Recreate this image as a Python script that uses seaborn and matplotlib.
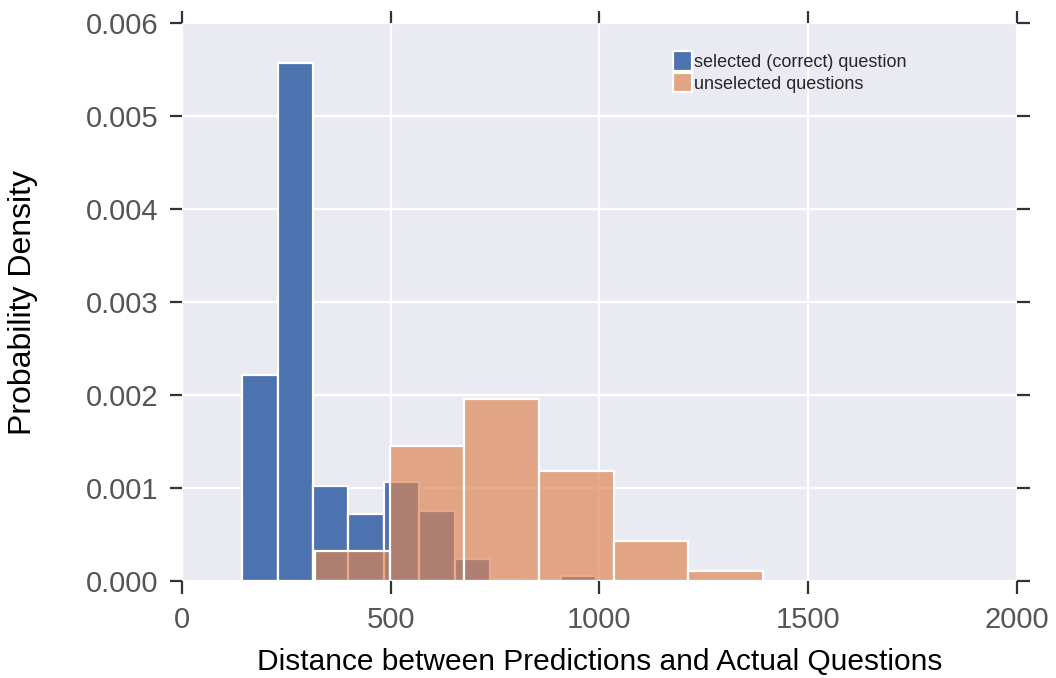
import numpy as np
import pandas as pd
import matplotlib
matplotlib.use("Agg")
import matplotlib.pyplot as plt
import seaborn as sns

# Selected (correct) question: histogram bin edges and densities
sel_edges = [144, 229, 314, 398, 483, 568, 653, 738, 822, 907, 992]
sel_density = [0.00222, 0.00557, 0.00102, 0.00072, 0.00107, 0.00075, 0.00024, 0.00002, 0.0, 0.00005]

# Unselected questions: histogram bin edges and densities
unsel_edges = [319, 498, 676, 855, 1034, 1213, 1392]
unsel_density = [0.00032, 0.00145, 0.00196, 0.00118, 0.00043, 0.00011]

labels = ["selected (correct) question", "unselected questions"]
xticks = [0, 500, 1000, 1500, 2000]
yticks = [0.000, 0.001, 0.002, 0.003, 0.004, 0.005, 0.006]

sns.set_theme(style="darkgrid", rc={"grid.linewidth": 1.7})
plt.rcParams["font.family"] = ["Liberation Sans", "DejaVu Sans"]

fig = plt.figure(figsize=(10.56, 6.78), dpi=100)
ax = fig.add_axes([0.1723, 0.143, 0.7907, 0.823])

def centers(edges):
    e = np.asarray(edges, dtype=float)
    return (e[:-1] + e[1:]) / 2

df_sel = pd.DataFrame({"x": centers(sel_edges), "w": sel_density})
df_uns = pd.DataFrame({"x": centers(unsel_edges), "w": unsel_density})

sns.histplot(data=df_sel, x="x", weights="w", bins=sel_edges, stat="count",
             color="#4C72B0", alpha=1.0, edgecolor="white", linewidth=1.6,
             ax=ax, label=labels[0])
sns.histplot(data=df_uns, x="x", weights="w", bins=unsel_edges, stat="count",
             color="#DD8452", alpha=0.68, edgecolor="white", linewidth=1.6,
             ax=ax, label=labels[1])

ax.set_xlim(0, 2000)
ax.set_ylim(0, 0.006)
ax.set_xticks(xticks)
ax.set_yticks(yticks)
ax.set_xticklabels([str(v) for v in xticks])
ax.set_yticklabels([f"{v:.3f}" for v in yticks])

ax.tick_params(axis="both", which="major", direction="out", length=9, width=1.6,
               color="#333333", labelcolor="#555555", labelsize=21,
               top=True, right=True, bottom=True, left=True, pad=8)
ax.tick_params(axis="x", pad=9)

ax.set_xlabel("Distance between Predictions and Actual Questions", fontsize=21.5,
              color="black", labelpad=10)
ax.set_ylabel("Probability Density", fontsize=23, color="black", labelpad=34)

for s in ax.spines.values():
    s.set_visible(False)

leg = ax.legend(loc="upper left", bbox_to_anchor=(0.580, 0.962), frameon=False,
                fontsize=13, handlelength=1.0, handleheight=1.3,
                handletextpad=0.15, labelspacing=0.08, borderaxespad=0)

fig.savefig("out.png", dpi=100)
